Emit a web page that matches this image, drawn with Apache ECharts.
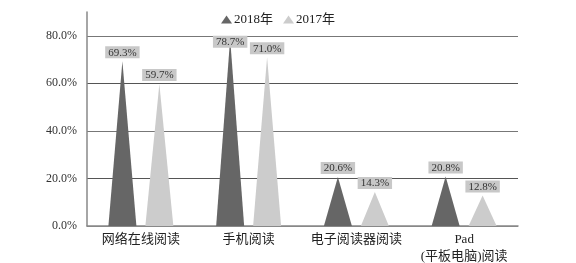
<!DOCTYPE html>
<html><head><meta charset="utf-8">
<script src="https://cdn.jsdelivr.net/npm/echarts@6/dist/echarts.min.js"></script>
<style>html,body{margin:0;padding:0;background:#fff}#c{width:576px;height:263px}</style>
</head><body><div id="c"></div>
<script>
const categories = ['网络在线阅读', '手机阅读', '电子阅读器阅读', 'Pad\n(平板电脑)阅读'];
const values2018 = [69.3, 78.7, 20.6, 20.8];
const values2017 = [59.7, 71.0, 14.3, 12.8];
const seriesNames = ['2018年', '2017年'];
const yTicks = [0, 20, 40, 60, 80];

const FONT = '"Liberation Serif", "Noto Sans CJK SC", serif';
const chart = echarts.init(document.getElementById('c'));
const labelStyle = {
  show: true, position: 'top', distance: 3,
  formatter: p => p.value.toFixed(1) + '%',
  backgroundColor: '#c8c8c8', padding: [1, 3, 0, 3],
  fontFamily: FONT, fontSize: 11, color: '#333'
};
function mkData(vals, overrides) {
  return vals.map((v, i) => overrides && overrides[i] ? { value: v, label: overrides[i] } : v);
}
chart.setOption({
  animation: false,
  legend: {
    top: 8, left: 216, itemWidth: 11, itemHeight: 8, itemGap: 10,
    textStyle: { fontFamily: FONT, fontSize: 13, color: '#222', padding: [0, 0, 0, -3] },
    data: seriesNames.map(n => ({ name: n, icon: 'triangle' }))
  },
  grid: { left: 87, right: 58, top: 12, bottom: 37, containLabel: false, outerBoundsMode: 'none' },
  xAxis: {
    type: 'category', data: categories,
    axisLine: { lineStyle: { color: '#888', width: 1.5 } },
    axisTick: { show: false },
    axisLabel: { fontFamily: FONT, fontSize: 13, color: '#222', margin: 5, lineHeight: 17, interval: 0 }
  },
  yAxis: {
    type: 'value', min: 0, max: 90, interval: 20,
    axisLine: { show: true, lineStyle: { color: '#888', width: 1.5 } },
    axisTick: { show: false },
    axisLabel: { fontFamily: FONT, fontSize: 12, color: '#333', margin: 10,
      formatter: v => yTicks.indexOf(v) >= 0 ? v.toFixed(1) + '%' : '' },
    splitLine: { lineStyle: { color: ['#888', '#555', '#777', '#555', '#777', 'rgba(0,0,0,0)'], width: 1.2 } }
  },
  series: [
    { name: seriesNames[0], type: 'pictorialBar', symbol: 'triangle', symbolSize: ['100%', '100%'],
      barWidth: 28, barGap: '32%', itemStyle: { color: '#666666' },
      label: labelStyle, data: mkData(values2018, { 1: { offset: [0, 12] } }) },
    { name: seriesNames[1], type: 'pictorialBar', symbol: 'triangle', symbolSize: ['100%', '100%'],
      barWidth: 28, barGap: '32%', itemStyle: { color: '#cccccc' },
      label: labelStyle, data: mkData(values2017) }
  ]
});
</script></body></html>
